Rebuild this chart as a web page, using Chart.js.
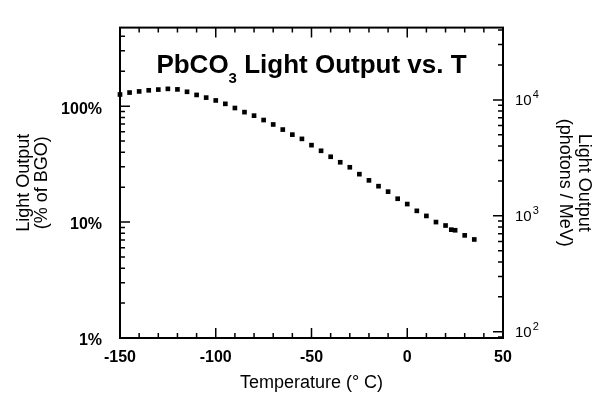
<!DOCTYPE html>
<html>
<head>
<meta charset="utf-8">
<script src="https://cdn.jsdelivr.net/npm/chart.js@4"></script>
<style>
  html, body { margin: 0; padding: 0; background: #fff; }
</style>
</head>
<body>
<canvas id="lightChart" width="598" height="400"></canvas>
<script>
// temperature in deg C, light output in % of BGO
const temperatures = [-150, -145, -140, -135, -130, -125, -120, -115, -110, -105,
  -100, -95, -90, -85, -80, -75, -70, -65, -60, -55,
  -50, -45, -40, -35, -30, -25, -20, -15, -10, -5,
  0, 5, 10, 15, 20, 23, 25, 30, 35];
const lightOutput = [126, 131, 134, 137, 139, 141, 139.5, 133, 125, 118.5,
  112, 104.7, 96.4, 88.8, 82.8, 75.9, 69.5, 62.8, 56.8, 52.2,
  46.1, 41.2, 36.6, 32.8, 29.7, 25.9, 22.9, 20.4, 18.3, 15.9,
  14.3, 12.5, 11.3, 10.0, 9.34, 8.6, 8.5, 7.68, 7.08];

const xTicks = [-150, -100, -50, 0, 50];
const leftTicks = [1, 10, 100];
const leftLabels = ['1%', '10%', '100%'];
const rightTicks = [100, 1000, 10000];
const rightExponents = ['2', '3', '4'];

const FONT = '"Liberation Sans", Arial, Helvetica, sans-serif';
const bgoPhotons = 88.3; // photons/MeV per 1% of BGO

function logValues(scale) {
  const out = [];
  const lo = Math.floor(Math.log10(scale.min));
  const hi = Math.ceil(Math.log10(scale.max));
  for (let d = lo; d <= hi; d++) {
    for (let m = 1; m <= 9; m++) {
      const v = m * Math.pow(10, d);
      if (v >= scale.min * 0.999 && v <= scale.max) out.push({ v: v, major: m === 1 });
    }
  }
  return out;
}

const frameTicks = {
  id: 'frameTicks',
  afterDatasetsDraw(chart) {
    const { ctx, chartArea: a, scales } = chart;
    ctx.save();
    ctx.strokeStyle = '#000';
    ctx.lineWidth = 2;
    ctx.strokeRect(a.left, a.top, a.right - a.left, a.bottom - a.top);
    ctx.lineWidth = 1.5;
    ctx.beginPath();
    for (let t = scales.x.min; t <= scales.x.max; t += 10) {
      const px = scales.x.getPixelForValue(t);
      const len = t % 50 === 0 ? 10 : 5;
      ctx.moveTo(px, a.bottom); ctx.lineTo(px, a.bottom - len);
      ctx.moveTo(px, a.top); ctx.lineTo(px, a.top + len);
    }
    logValues(scales.y).forEach(t => {
      const py = scales.y.getPixelForValue(t.v);
      ctx.moveTo(a.left, py); ctx.lineTo(a.left + (t.major ? 10 : 5), py);
    });
    logValues(scales.y2).forEach(t => {
      const py = scales.y2.getPixelForValue(t.v);
      ctx.moveTo(a.right, py); ctx.lineTo(a.right - (t.major ? 10 : 5), py);
    });
    ctx.stroke();
    ctx.restore();
  },
  afterDraw(chart) {
    const { ctx, chartArea: a, scales } = chart;
    ctx.save();
    ctx.fillStyle = '#000';
    ctx.textAlign = 'left';

    // right axis labels 10^n
    ctx.textBaseline = 'middle';
    rightTicks.forEach((v, i) => {
      const py = scales.y2.getPixelForValue(v);
      const x0 = a.right + 12;
      ctx.font = '15px ' + FONT;
      ctx.fillText('10', x0, py + 1);
      const w = ctx.measureText('10').width;
      ctx.font = '11px ' + FONT;
      ctx.fillText(rightExponents[i], x0 + w + 1, py - 5);
    });

    // title inside the plot
    const big = 'bold 26px ' + FONT;
    const small = 'bold 15px ' + FONT;
    ctx.textBaseline = 'alphabetic';
    ctx.font = big;
    const w1 = ctx.measureText('PbCO').width;
    const w3 = ctx.measureText(' Light Output vs. T').width;
    ctx.font = small;
    const w2 = ctx.measureText('3').width;
    let x = (a.left + a.right) / 2 - (w1 + w2 + w3) / 2;
    const y = a.top + 45;
    ctx.font = big;
    ctx.fillText('PbCO', x, y);
    x += w1;
    ctx.font = small;
    ctx.fillText('3', x, y + 10);
    x += w2;
    ctx.font = big;
    ctx.fillText(' Light Output vs. T', x, y);
    ctx.restore();
  }
};

new Chart(document.getElementById('lightChart'), {
  type: 'scatter',
  data: {
    datasets: [{
      label: 'PbCO3',
      data: temperatures.map((t, i) => ({ x: t, y: lightOutput[i] })),
      pointStyle: 'rect',
      pointRadius: 3.3,
      backgroundColor: '#000',
      borderColor: '#000',
      borderWidth: 0,
      clip: false
    }]
  },
  options: {
    responsive: false,
    animation: false,
    layout: { padding: { top: 13, left: 0, right: 0, bottom: 0 } },
    plugins: { legend: { display: false }, tooltip: { enabled: false } },
    scales: {
      x: {
        type: 'linear',
        min: -150,
        max: 50,
        grid: { display: false, drawTicks: false },
        border: { display: false },
        afterBuildTicks: s => { s.ticks = xTicks.map(v => ({ value: v })); },
        afterFit: s => { s.height = 62; },
        ticks: { color: '#000', padding: 10, font: { family: FONT, size: 16, weight: 'bold' } },
        title: {
          display: true,
          text: 'Temperature (° C)',
          color: '#000',
          padding: { top: 0, bottom: 6 },
          font: { family: FONT, size: 18 }
        }
      },
      y: {
        type: 'logarithmic',
        position: 'left',
        min: 1,
        max: 476,
        grid: { display: false, drawTicks: false },
        border: { display: false },
        afterBuildTicks: s => { s.ticks = leftTicks.map(v => ({ value: v })); },
        afterFit: s => { s.width = 120; },
        ticks: {
          color: '#000',
          padding: 18,
          labelOffset: 3,
          font: { family: FONT, size: 16, weight: 'bold' },
          callback: v => leftLabels[leftTicks.indexOf(v)]
        },
        title: {
          display: true,
          text: ['Light Output', '(% of BGO)'],
          color: '#000',
          padding: { top: 15, bottom: 0 },
          font: { family: FONT, size: 18, lineHeight: 1.0 }
        }
      },
      y2: {
        type: 'logarithmic',
        position: 'right',
        min: bgoPhotons,
        max: 476 * bgoPhotons,
        grid: { display: false, drawTicks: false },
        border: { display: false },
        afterBuildTicks: s => { s.ticks = rightTicks.map(v => ({ value: v })); },
        afterFit: s => { s.width = 95; },
        ticks: { display: false },
        title: {
          display: true,
          text: ['Light Output', '(photons / MeV)'],
          color: '#000',
          padding: { top: 5, bottom: 0 },
          font: { family: FONT, size: 18, lineHeight: 1.05 }
        }
      }
    }
  },
  plugins: [frameTicks]
});
</script>
</body>
</html>
